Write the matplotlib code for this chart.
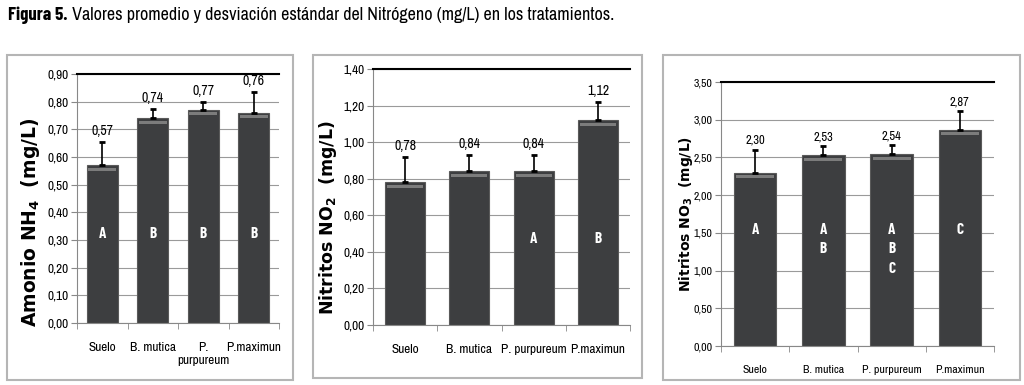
import matplotlib.pyplot as plt
from matplotlib.patches import Rectangle
from matplotlib.text import Annotation
from matplotlib import font_manager

names = {f.name for f in font_manager.fontManager.ttflist}


def pick(cands):
    for c in cands:
        if c in names:
            return c
    return 'DejaVu Sans'


narrow = pick(['Archivo Narrow', 'Roboto Condensed', 'Barlow Condensed'])
narrow_bold = pick(['Barlow Condensed', 'Roboto Condensed', 'Asap Condensed'])

categories = ["Suelo", "B. mutica", "P. purpureum", "P.maximun"]
cat_labels_1 = ["Suelo", "B. mutica", "P.\npurpureum", "P.maximun"]

nh4_mean = [0.57, 0.74, 0.77, 0.76]
nh4_err = [0.085, 0.035, 0.03, 0.075]
nh4_letters = [["A"], ["B"], ["B"], ["B"]]

no2_mean = [0.78, 0.84, 0.84, 1.12]
no2_err = [0.14, 0.09, 0.09, 0.10]
no2_letters = [[], [], ["A"], ["B"]]

no3_mean = [2.30, 2.53, 2.54, 2.87]
no3_err = [0.30, 0.12, 0.12, 0.24]
no3_letters = [["A"], ["A", "B"], ["A", "B", "C"], ["C"]]

W, H = 1024, 385
fig = plt.figure(figsize=(W / 100, H / 100), dpi=100)

# title: bold part, then the rest right after it
t = fig.text(8 / W, 1 - 15 / H, "Figura 5.", fontsize=13.5, fontweight='bold',
             family=narrow_bold, va='center', ha='left')
rest = Annotation(" Valores promedio y desviación estándar del Nitrógeno (mg/L) en los tratamientos.",
                  xy=(1, 0.5), xycoords=t, va='center', ha='left', fontsize=13,
                  family=narrow, annotation_clip=False)
fig.add_artist(rest)

# panel borders
for (x0, y0, x1, y1) in [(7, 55, 293, 380), (313, 55, 642, 378), (663, 55, 1020, 380)]:
    fig.patches.append(Rectangle((x0 / W, 1 - y1 / H), (x1 - x0) / W, (y1 - y0) / H,
                                 transform=fig.transFigure, fill=False,
                                 edgecolor='#b5b5b5', linewidth=1.5))


def panel(rect, means, errs, letters, ymax, ystep, letter_y, letter_dy,
          ylabel, ylabel_x, ylabel_y, ylabel_size, xlabels, tick_fs):
    ax = fig.add_axes(rect)
    x = range(len(means))
    ax.set_axisbelow(True)
    ticks = [i * ystep for i in range(int(round(ymax / ystep)) + 1)]
    ax.set_yticks(ticks)
    ax.set_yticklabels([f"{v:.2f}".replace('.', ',') for v in ticks],
                       family=narrow, fontsize=tick_fs)
    ax.yaxis.grid(True, color='#9a9a9a', linewidth=0.8)
    ax.bar(x, means, width=0.62, color='#3d3e40', edgecolor='#5a5a5a', linewidth=0.8)
    # lighter top highlight on each bar
    ax.bar(x, [ymax * 0.012] * len(means), bottom=[m - ymax * 0.022 for m in means],
           width=0.56, color='#7c7c7c', linewidth=0)
    ax.errorbar(x, means, yerr=[[0] * len(means), errs], fmt='none',
                ecolor='black', elinewidth=1.2, capsize=2.5, capthick=2)
    for i, (m, e) in enumerate(zip(means, errs)):
        ax.text(i, m + e + ymax * 0.015, f"{m:.2f}".replace('.', ','),
                ha='center', va='bottom', family=narrow, fontsize=tick_fs + 0.5)
        for k, lt in enumerate(letters[i]):
            ax.text(i, letter_y - k * letter_dy, lt, ha='center', va='center',
                    color='white', fontweight='bold', family=narrow_bold, fontsize=11)
    ax.set_xlim(-0.5, len(means) - 0.5)
    ax.set_ylim(0, ymax)
    ax.set_xticks(list(x))
    ax.set_xticklabels(xlabels, family=narrow, fontsize=tick_fs, va='top')
    ax.tick_params(axis='x', length=0, pad=14)
    ax.set_xticks([i + 0.5 for i in range(-1, len(means))], minor=True)
    ax.tick_params(axis='x', which='minor', length=4, color='#888888')
    ax.tick_params(axis='y', length=4, color='#888888', pad=2)
    ax.spines['left'].set_color('#888888')
    ax.spines['bottom'].set_color('#888888')
    ax.spines['right'].set_visible(False)
    ax.spines['top'].set_color('black')
    ax.spines['top'].set_linewidth(1.5)
    fig.text(ylabel_x / W, 1 - ylabel_y / H, ylabel, rotation=90,
             ha='center', va='center', fontweight='bold', fontsize=ylabel_size,
             family='DejaVu Sans')
    return ax


panel([77 / W, 1 - 323 / H, 202 / W, 249 / H], nh4_mean, nh4_err, nh4_letters,
      0.90, 0.10, 0.32, 0.0, "Amonio NH$_\\mathbf{4}$  (mg/L)", 31, 222, 13.5,
      cat_labels_1, 9.5)
panel([373 / W, 1 - 325 / H, 257 / W, 256 / H], no2_mean, no2_err, no2_letters,
      1.40, 0.20, 0.47, 0.0, "Nitritos NO$_\\mathbf{2}$  (mg/L)", 328, 218, 12.5,
      categories, 9.5)
panel([721 / W, 1 - 346 / H, 273 / W, 264 / H], no3_mean, no3_err, no3_letters,
      3.50, 0.50, 1.54, 0.26, "Nitritos NO$_\\mathbf{3}$  (mg/L)", 686, 214, 10,
      categories, 8.5)

fig.savefig("out.png", dpi=100)
